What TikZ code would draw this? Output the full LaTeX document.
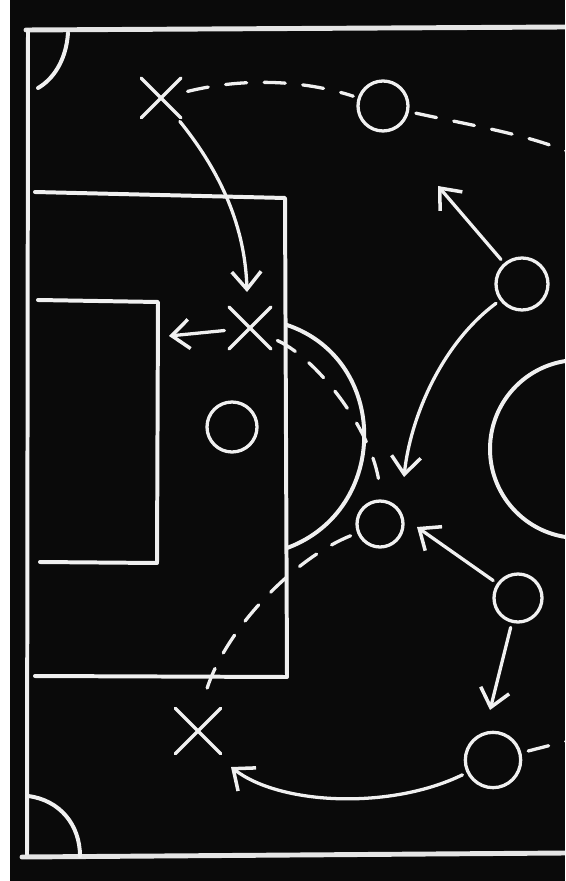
\documentclass[tikz,border=0pt]{standalone}
\usetikzlibrary{arrows.meta,shapes.misc}

\begin{document}
\begin{tikzpicture}[x=0.03cm,y=-0.03cm,
    chalk/.style={draw=white!88!gray, line width=3.4pt, line cap=round, line join=round},
    pass/.style={chalk, line width=2.8pt, dash pattern=on 18pt off 15pt, shorten <=6pt, shorten >=4pt},
    run/.style={chalk, line width=2.8pt, shorten <=4pt, -{Straight Barb[length=15pt,width=25pt,line width=3pt]}},
    attacker/.style={circle, chalk, line width=2.8pt, inner sep=0pt},
    defender/.style={cross out, chalk, line width=3pt, inner sep=0pt}]
      \useasboundingbox (0,0) rectangle (565,881);
      \fill[white] (0,0) rectangle (565,881);
      \fill[black!96] (10,0) rectangle (565,881);
      \begin{scope}
      \clip (10,0) rectangle (565,881);
      % pitch markings
      \draw[chalk, line width=4.2pt, draw=white!80!gray] (26,30) -- (565,27);
      \draw[chalk] (28,30) -- (27,857);
      \draw[chalk, line width=4.2pt, draw=white!80!gray] (22,857) -- (565,853);
      \draw[chalk] (68,33) .. controls (66,62) and (52,80) .. (38,88);
      \draw[chalk] (28,796) .. controls (60,800) and (80,825) .. (80,856);
      \draw[chalk] (35,192) -- (285,198) -- (287,677) -- (35,676);
      \draw[chalk] (38,300) -- (158,302) -- (157,563) -- (40,562);
      \draw[chalk] (287,325) .. controls (390,360) and (390,510) .. (287,548);
      \draw[chalk] (579,449) circle[radius=89];
      % players
      \foreach \n/\p/\s in {o1/{383,106}/1.5cm, o2/{232,427}/1.5cm, o3/{380,524}/1.38cm,
                            o4/{522,284}/1.56cm, o5/{518,598}/1.44cm, o6/{493,760}/1.66cm} {
        \node[attacker, minimum size=\s] (\n) at (\p) {};
      }
      \foreach \n/\p/\s in {x1/{161,98}/1.08cm, x2/{250,328}/1.15cm, x3/{198,731}/1.25cm} {
        \node[defender, minimum size=\s] (\n) at (\p) {};
      }
      \coordinate (edge1) at (575,155);
      \coordinate (edge2) at (610,730);
      \coordinate (t1) at (247,292);
      \coordinate (t2) at (169,336);
      \coordinate (t4) at (438,186);
      \coordinate (t5) at (404,477);
      \coordinate (t6) at (417,527);
      \coordinate (t7) at (490,710);
      \coordinate (t8) at (231,767);
      % passes
      \draw[pass] (x1) .. controls (250,76) and (310,82) .. (o1);
      \draw[pass] (o1) .. controls (470,125) and (530,135) .. (edge1);
      \draw[pass] (x2) .. controls (320,360) and (380,440) .. (o3);
      \draw[pass] (o3) .. controls (290,560) and (215,640) .. (x3);
      \draw[pass] (o6) -- (edge2);
      % runs
      \draw[run] (x1) .. controls (215,165) and (245,220) .. (t1);
      \draw[run] (x2) -- (t2);
      \draw[run] (o4) -- (t4);
      \draw[run] (o4) .. controls (440,345) and (410,420) .. (t5);
      \draw[run] (o5) -- (t6);
      \draw[run] (o5) -- (t7);
      \draw[run] (o6) .. controls (390,810) and (280,805) .. (t8);
      \end{scope}
    \end{tikzpicture}
\end{document}
